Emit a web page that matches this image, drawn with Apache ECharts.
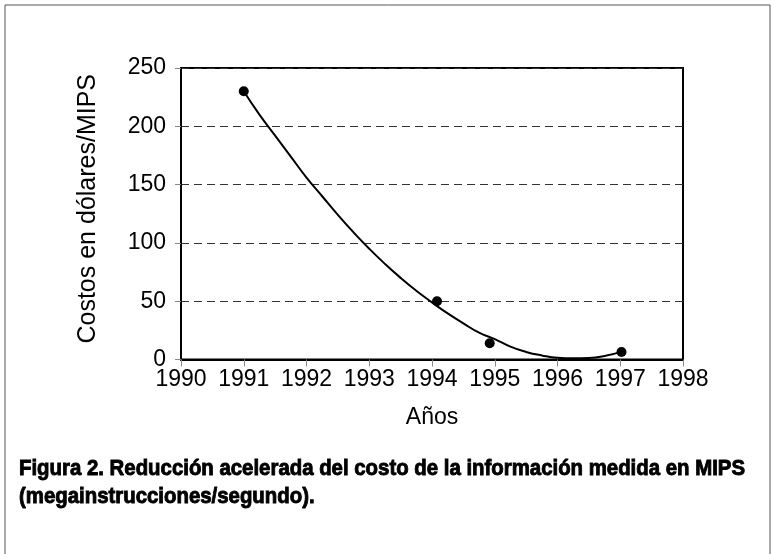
<!DOCTYPE html>
<html>
<head>
<meta charset="utf-8">
<script src="https://cdn.jsdelivr.net/npm/echarts@6/dist/echarts.min.js"></script>
<style>
html,body{margin:0;padding:0;background:#fff;}
#chart{width:771px;height:554px;}
</style>
</head>
<body>
<div id="chart"></div>
<script>
// Observed data points (year, cost in dollars per MIPS)
const pointYears = [1991, 1994.08, 1994.92, 1997.02];
const pointCosts = [230, 50, 14, 6.5];

// Trend curve
const curveYears = [1991, 1991.25, 1991.5, 1991.75, 1992, 1992.25, 1992.5, 1992.75, 1993, 1993.25, 1993.5, 1993.75, 1994, 1994.25, 1994.5, 1994.75, 1995, 1995.25, 1995.5, 1995.75, 1996, 1996.25, 1996.5, 1996.75, 1997];
const curveCosts = [230, 210, 192, 174, 156, 140, 124, 109, 95, 82, 70, 59, 49, 39.5, 31, 23, 17.5, 11, 6.5, 3.5, 1.5, 1, 1.3, 3, 6.3];

const yTicks = [0, 50, 100, 150, 200, 250];
const xTicks = [1990, 1991, 1992, 1993, 1994, 1995, 1996, 1997, 1998];

const yTitle = 'Costos en dólares/MIPS';
const xTitle = 'Años';
const captionLines = ['Figura 2. Reducción acelerada del costo de la información medida en MIPS', '(megainstrucciones/segundo).'];

const font = "'Liberation Sans', Arial, Helvetica, sans-serif";
const capFont = "'Liberation Sans', Arial, sans-serif";
const capSize = 22;

// horizontal compression of the caption to mimic a condensed heavy face
const mctx = document.createElement('canvas').getContext('2d');
mctx.font = 'bold ' + capSize + 'px ' + capFont;
const capScale = 726 / mctx.measureText(captionLines[0]).width;

const chart = echarts.init(document.getElementById('chart'), null, {renderer: 'canvas'});
chart.setOption({
  animation: false,
  backgroundColor: '#fff',
  grid: {left: 181, right: 88, top: 68, bottom: 194.5, show: true, borderColor: '#000', borderWidth: 2, backgroundColor: 'transparent'},
  xAxis: {
    type: 'value', min: xTicks[0], max: xTicks[xTicks.length - 1], interval: 1,
    name: xTitle, nameLocation: 'middle', nameGap: 47,
    nameTextStyle: {fontFamily: font, fontSize: 23, color: '#000'},
    axisLine: {show: true, lineStyle: {color: '#000', width: 2}},
    axisTick: {show: true, length: 7, lineStyle: {color: '#888', width: 1}},
    axisLabel: {fontFamily: font, fontSize: 23, color: '#000', margin: 9, formatter: v => String(v)},
    splitLine: {show: false}
  },
  yAxis: {
    type: 'value', min: yTicks[0], max: yTicks[yTicks.length - 1], interval: 50,
    name: yTitle, nameLocation: 'middle', nameGap: 80, nameRotate: 90,
    nameTextStyle: {fontFamily: font, fontSize: 25, color: '#000', padding: [0, 0, 0, 10]},
    axisLine: {show: true, lineStyle: {color: '#000', width: 2}},
    axisTick: {show: true, length: 6, lineStyle: {color: '#888', width: 1}},
    axisLabel: {fontFamily: font, fontSize: 23, color: '#000', margin: 15},
    splitLine: {show: true, lineStyle: {color: '#333', width: 1, type: [8, 5]}}
  },
  graphic: [
    {type: 'rect', shape: {x: 5, y: 5, width: 765, height: 600}, style: {fill: 'none', stroke: '#555', lineWidth: 1}, silent: true},
    {type: 'text', x: 19, y: 455, scaleX: capScale, style: {x: 0, y: 0, text: captionLines.join('\n'), fontFamily: capFont, fontWeight: 'bold', fontSize: capSize, lineHeight: 28, fill: '#000', stroke: '#000', lineWidth: 0.9, verticalAlign: 'top', align: 'left'}}
  ],
  series: [
    {type: 'line', data: curveYears.map((x, i) => [x, curveCosts[i]]), smooth: true, showSymbol: false, symbol: 'none', lineStyle: {color: '#000', width: 2}, z: 2},
    {type: 'scatter', data: pointYears.map((x, i) => [x, pointCosts[i]]), symbol: 'circle', symbolSize: 10, itemStyle: {color: '#000', opacity: 1}, z: 3}
  ]
});
</script>
</body>
</html>
